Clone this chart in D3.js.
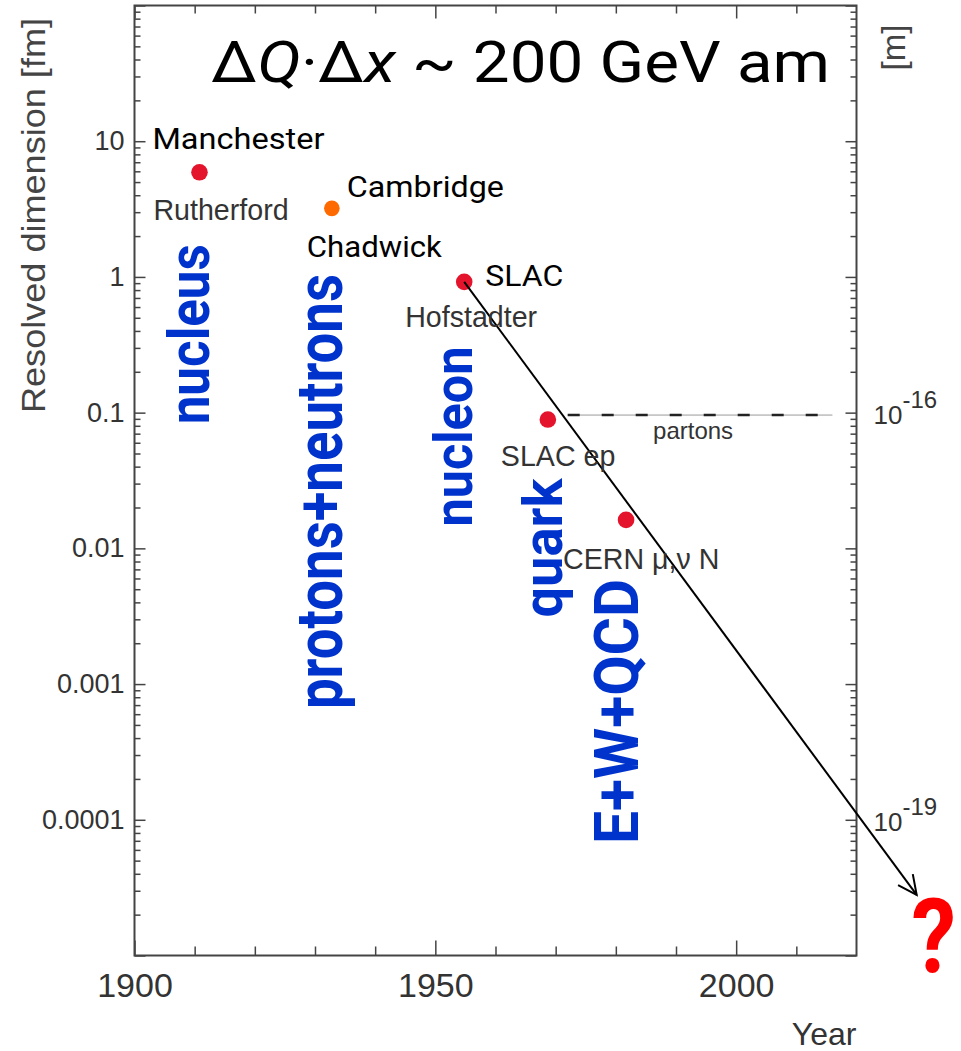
<!DOCTYPE html>
<html>
<head>
<meta charset="utf-8">
<script src="https://cdn.jsdelivr.net/npm/d3@7"></script>
<style>
  body { margin: 0; background: #fff; }
  svg { display: block; }
</style>
</head>
<body>
<svg id="chart" width="961" height="1051"></svg>
<script>
// values
const experiments = ["Rutherford", "Chadwick", "Hofstadter", "SLAC ep", "CERN \u03bc,\u03bd N"];
const places = ["Manchester", "Cambridge", "SLAC", "", ""];
const years = [1910.8, 1932.8, 1954.8, 1968.7, 1981.7];
const dimensionFm = [5.9, 3.2, 0.92, 0.089, 0.0162];
const structures = ["nucleus", "protons+neutrons", "nucleon", "quark", "E+W+QCD"];
const yTickValues = [10, 1, 0.1, 0.01, 0.001, 0.0001];
const xTickValues = [1900, 1950, 2000];
const meterExponents = [-16, -19];
const partonYears = [1972, 2016];
const partonFm = 0.096;
const arrowTo = [2030, 2.8e-5];

const svg = d3.select("#chart");
const comic = "Roboto, 'Noto Sans', sans-serif";
const helv = "'Liberation Sans', Arial, sans-serif";

const x = d3.scaleLinear().domain([1900, 2020]).range([134.5, 856.5]);
const y = d3.scaleLog().domain([1e-5, 100]).range([955.5, 5.5]);

const [x0, x1] = x.range();
const [y1, y0] = y.range();

const decades = d3.range(-5, 3).map(k => Math.pow(10, k));
const isDecade = d => Math.abs(Math.log10(d) - Math.round(Math.log10(d))) < 1e-6;
const yMinor = y.ticks().filter(d => !isDecade(d));
const xMinor = d3.range(1910, 2020, 10).filter(d => !xTickValues.includes(d));
const fmtY = d => yTickValues.some(v => Math.abs(v - d) / v < 1e-9) ? String(d) : "";

function styleAxis(g) {
  g.select(".domain").remove();
  g.selectAll(".tick line").attr("stroke", "#444").attr("stroke-width", 1.5);
  g.selectAll(".tick text").attr("fill", "#333").attr("font-family", helv);
}

// left axis
svg.append("g").attr("transform", `translate(${x0},0)`)
  .call(d3.axisLeft(y).tickValues(decades).tickSize(-11).tickPadding(10).tickFormat(fmtY))
  .call(styleAxis)
  .selectAll(".tick text").attr("font-size", 27);
svg.append("g").attr("transform", `translate(${x0},0)`)
  .call(d3.axisLeft(y).tickValues(yMinor).tickSize(-6).tickFormat(""))
  .call(styleAxis);

// right axis
svg.append("g").attr("transform", `translate(${x1},0)`)
  .call(d3.axisRight(y).tickValues(decades).tickSize(-11).tickFormat(""))
  .call(styleAxis);
svg.append("g").attr("transform", `translate(${x1},0)`)
  .call(d3.axisRight(y).tickValues(yMinor).tickSize(-6).tickFormat(""))
  .call(styleAxis);

// bottom axis
svg.append("g").attr("transform", `translate(0,${y1})`)
  .call(d3.axisBottom(x).tickValues(xTickValues).tickSize(-15).tickPadding(17).tickFormat(d3.format("d")))
  .call(styleAxis)
  .selectAll(".tick text").attr("font-size", 34);
svg.append("g").attr("transform", `translate(0,${y1})`)
  .call(d3.axisBottom(x).tickValues(xMinor).tickSize(-9).tickFormat(""))
  .call(styleAxis);

// top axis
svg.append("g").attr("transform", `translate(0,${y0})`)
  .call(d3.axisTop(x).tickValues(xTickValues).tickSize(-13).tickFormat(""))
  .call(styleAxis);
svg.append("g").attr("transform", `translate(0,${y0})`)
  .call(d3.axisTop(x).tickValues(xMinor).tickSize(-8).tickFormat(""))
  .call(styleAxis);

// frame
svg.append("rect")
  .attr("x", x0).attr("y", y0)
  .attr("width", x1 - x0).attr("height", y1 - y0)
  .attr("fill", "none").attr("stroke", "#444").attr("stroke-width", 2);

// right axis labels in metres
meterExponents.forEach(e => {
  const yy = y(Math.pow(10, e + 15));
  const t = svg.append("text")
    .attr("x", x1 + 17).attr("y", yy + 11)
    .attr("font-family", helv).attr("font-size", 26).attr("fill", "#333")
    .text("10");
  t.append("tspan").attr("dy", -16).attr("font-size", 24).text("-" + Math.abs(e));
});

// axis titles
svg.append("text")
  .attr("transform", `translate(45,215.5) rotate(-90)`)
  .attr("text-anchor", "middle")
  .attr("font-family", helv).attr("font-size", 34).attr("fill", "#444")
  .attr("textLength", 395).attr("lengthAdjust", "spacingAndGlyphs")
  .text("Resolved dimension [fm]");
svg.append("text")
  .attr("transform", `translate(905,47.5) rotate(-90)`)
  .attr("text-anchor", "middle")
  .attr("font-family", helv).attr("font-size", 33).attr("fill", "#444")
  .text("[m]");
svg.append("text")
  .attr("x", x1).attr("y", 1045)
  .attr("text-anchor", "end")
  .attr("font-family", helv).attr("font-size", 32).attr("fill", "#333")
  .text("Year");

// title
const title = svg.append("text")
  .attr("x", 211).attr("y", 82)
  .attr("font-family", comic).attr("font-size", 58).attr("fill", "#000")
  .attr("textLength", 619).attr("lengthAdjust", "spacingAndGlyphs");
title.append("tspan").text("\u0394");
title.append("tspan").attr("font-style", "italic").text("Q");
title.append("tspan").text("\u00b7\u0394");
title.append("tspan").attr("font-style", "italic").text("x");
title.append("tspan").text(" ~ 200 GeV am");

// partons dashed line
const py = y(partonFm);
svg.append("line")
  .attr("x1", x(partonYears[0])).attr("x2", x(partonYears[1]))
  .attr("y1", py).attr("y2", py)
  .attr("stroke", "#999").attr("stroke-width", 1);
svg.append("line")
  .attr("x1", x(partonYears[0])).attr("x2", x(partonYears[1]))
  .attr("y1", py).attr("y2", py)
  .attr("stroke", "#222").attr("stroke-width", 2.5)
  .attr("stroke-dasharray", "12,22");
svg.append("text")
  .attr("x", x(d3.mean(partonYears)) - 7).attr("y", py + 24)
  .attr("text-anchor", "middle")
  .attr("font-family", helv).attr("font-size", 24).attr("fill", "#333")
  .text("partons");

// points
const pts = years.map((yr, i) => [x(yr), y(dimensionFm[i])]);
svg.append("g").selectAll("circle")
  .data(pts)
  .join("circle")
    .attr("cx", d => d[0])
    .attr("cy", d => d[1])
    .attr("r", (d, i) => i === 1 ? 7.8 : 8.3)
    .attr("fill", (d, i) => i === 1 ? "#ff6a00" : "#e3142c");

// arrow from Hofstadter point onward
const a0 = pts[2];
const a1 = [x(arrowTo[0]), y(arrowTo[1])];
svg.append("line")
  .attr("x1", a0[0]).attr("y1", a0[1])
  .attr("x2", a1[0]).attr("y2", a1[1])
  .attr("stroke", "#000").attr("stroke-width", 2);
const ang = Math.atan2(a0[1] - a1[1], a0[0] - a1[0]);
const head = [-0.45, 0.45].map(da => [a1[0] + 21 * Math.cos(ang + da), a1[1] + 21 * Math.sin(ang + da)]);
svg.append("path")
  .attr("d", `M${head[0]}L${a1}L${head[1]}`)
  .attr("fill", "none").attr("stroke", "#000").attr("stroke-width", 2);
svg.append("text")
  .attr("transform", `translate(${a1[0] + 17},${a1[1] + 77}) scale(0.86,1)`)
  .attr("text-anchor", "middle")
  .attr("font-family", comic).attr("font-weight", "bold").attr("font-size", 104).attr("fill", "#ff0000")
  .text("?");

// place labels (handwritten style)
const placeOffsets = [[-47, -23], [15, -11], [21, 4]];
const placeLengths = [172, 157, 78];
places.forEach((p, i) => {
  if (!p) return;
  svg.append("text")
    .attr("x", pts[i][0] + placeOffsets[i][0]).attr("y", pts[i][1] + placeOffsets[i][1])
    .attr("font-family", comic).attr("font-size", 30).attr("fill", "#000")
    .attr("textLength", placeLengths[i]).attr("lengthAdjust", "spacingAndGlyphs")
    .text(p);
});

// experiment labels
const expOffsets = [[-46, 48], [-25, 49], [-59, 45], [-47, 46], [-63, 49]];
experiments.forEach((e, i) => {
  const t = svg.append("text")
    .attr("x", pts[i][0] + expOffsets[i][0]).attr("y", pts[i][1] + expOffsets[i][1])
    .text(e);
  if (i === 1) {
    t.attr("font-family", comic).attr("font-size", 30).attr("fill", "#000")
      .attr("textLength", 135).attr("lengthAdjust", "spacingAndGlyphs");
  } else {
    t.attr("font-family", helv).attr("font-size", 28.6).attr("fill", "#333");
  }
});

// blue structure labels, rotated
const structOffsets = [[10, 252], [10.6, 500.7], [7.6, 244.7], [13.7, 198], [12.3, 324]];
const structLengths = [180, 435, 180, 139, 265];
const structSizes = [58, 64, 54, 56, 62];
structures.forEach((s, i) => {
  const sx = pts[i][0] + structOffsets[i][0];
  const sy = pts[i][1] + structOffsets[i][1];
  svg.append("text")
    .attr("transform", `translate(${sx},${sy}) rotate(-90)`)
    .attr("font-family", comic).attr("font-weight", "bold")
    .attr("font-size", structSizes[i]).attr("fill", "#0033cc")
    .attr("textLength", structLengths[i]).attr("lengthAdjust", "spacingAndGlyphs")
    .text(s);
});
</script>
</body>
</html>
